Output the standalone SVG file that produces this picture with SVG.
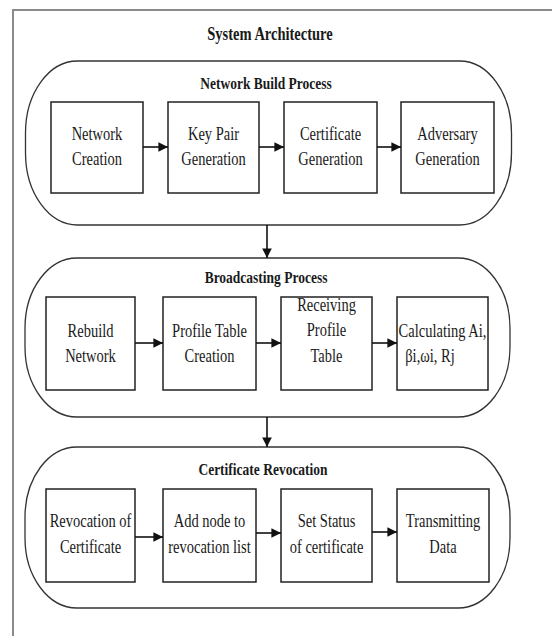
<svg xmlns="http://www.w3.org/2000/svg" width="552" height="636" viewBox="0 0 552 636">
<defs>
<style>
.frame{fill:none;stroke:#8a8a8a;stroke-width:2}
.pill{fill:none;stroke:#333;stroke-width:1.3}
.box{fill:#fff;stroke:#222;stroke-width:1.5}
.t{font-family:"Liberation Serif","Times New Roman",serif;font-size:14.5px;fill:#1a1a1a;text-anchor:middle}
.h{font-family:"Liberation Serif","Times New Roman",serif;font-size:13.5px;font-weight:bold;fill:#1a1a1a;text-anchor:middle}
.c{fill:none;stroke:#111;stroke-width:1.6}
</style>
<marker id="ah" viewBox="0 0 10 10" refX="10" refY="5" markerWidth="6" markerHeight="6" orient="auto" markerUnits="strokeWidth">
<path d="M0,0 L10,5 L0,10 z" fill="#111"/>
</marker>
</defs>
<rect width="552" height="636" fill="#fff"/>
<path class="frame" d="M13,636 V10 H552"/>
<text class="h" transform="translate(270,40) scale(1,1.28)" style="font-size:14.5px">System Architecture</text>

<g id="network-build-process">
<rect class="pill" x="25.5" y="61" width="486" height="164" rx="52" ry="72"/>
<text class="h" transform="translate(266,89) scale(1,1.3)">Network Build Process</text>
</g>
<g id="network-creation">
<rect class="box" x="51" y="102" width="92" height="91"/>
<text class="t" transform="translate(97,140) scale(1,1.25)">Network</text>
<text class="t" transform="translate(97,165) scale(1,1.25)">Creation</text>
</g>
<g id="key-pair-generation">
<rect class="box" x="168" y="102" width="91" height="91"/>
<text class="t" transform="translate(213.5,140) scale(1,1.25)">Key Pair</text>
<text class="t" transform="translate(213.5,165) scale(1,1.25)">Generation</text>
</g>
<g id="certificate-generation">
<rect class="box" x="284" y="102" width="93" height="91"/>
<text class="t" transform="translate(330.5,140) scale(1,1.25)">Certificate</text>
<text class="t" transform="translate(330.5,165) scale(1,1.25)">Generation</text>
</g>
<g id="adversary-generation">
<rect class="box" x="401" y="102" width="93" height="91"/>
<text class="t" transform="translate(447.5,140) scale(1,1.25)">Adversary</text>
<text class="t" transform="translate(447.5,165) scale(1,1.25)">Generation</text>
</g>

<g id="broadcasting-process">
<rect class="pill" x="25" y="258" width="485" height="159" rx="52" ry="70"/>
<text class="h" transform="translate(266,283) scale(1,1.3)">Broadcasting Process</text>
</g>
<g id="rebuild-network">
<rect class="box" x="46" y="297" width="89" height="93"/>
<text class="t" transform="translate(90.5,337) scale(1,1.25)">Rebuild</text>
<text class="t" transform="translate(90.5,362) scale(1,1.25)">Network</text>
</g>
<g id="profile-table-creation">
<rect class="box" x="163" y="297" width="93" height="93"/>
<text class="t" transform="translate(209.5,337) scale(1,1.25)">Profile Table</text>
<text class="t" transform="translate(209.5,362) scale(1,1.25)">Creation</text>
</g>
<g id="receiving-profile-table">
<rect class="box" x="281" y="297" width="91" height="93"/>
<text class="t" transform="translate(326.5,311) scale(1,1.25)">Receiving</text>
<text class="t" transform="translate(326.5,336) scale(1,1.25)">Profile</text>
<text class="t" transform="translate(326.5,362) scale(1,1.25)">Table</text>
</g>
<g id="calculating">
<rect class="box" x="397" y="297" width="91" height="93"/>
<text class="t" transform="translate(442.5,337) scale(1,1.25)">Calculating Ai,</text>
<text class="t" transform="translate(430,362) scale(1,1.25)">βi,ωi, Rj</text>
</g>

<g id="certificate-revocation">
<rect class="pill" x="25" y="447" width="485" height="161" rx="52" ry="70"/>
<text class="h" transform="translate(263,475) scale(1,1.3)">Certificate Revocation</text>
</g>
<g id="revocation-of-certificate">
<rect class="box" x="46" y="489" width="89" height="93"/>
<text class="t" transform="translate(90.5,527) scale(1,1.25)">Revocation of</text>
<text class="t" transform="translate(90.5,553) scale(1,1.25)">Certificate</text>
</g>
<g id="add-node">
<rect class="box" x="163" y="489" width="93" height="93"/>
<text class="t" transform="translate(209.5,527) scale(1,1.25)">Add node to</text>
<text class="t" transform="translate(209.5,553) scale(1,1.25)">revocation list</text>
</g>
<g id="set-status">
<rect class="box" x="281" y="489" width="91" height="93"/>
<text class="t" transform="translate(326.5,527) scale(1,1.25)">Set Status</text>
<text class="t" transform="translate(326.5,553) scale(1,1.25)">of certificate</text>
</g>
<g id="transmitting-data">
<rect class="box" x="397" y="489" width="92" height="93"/>
<text class="t" transform="translate(443,527) scale(1,1.25)">Transmitting</text>
<text class="t" transform="translate(443,553) scale(1,1.25)">Data</text>
</g>

<g id="connectors">
<line class="c" x1="143" y1="147" x2="168" y2="147" marker-end="url(#ah)"/>
<line class="c" x1="259" y1="147" x2="284" y2="147" marker-end="url(#ah)"/>
<line class="c" x1="377" y1="147" x2="401" y2="147" marker-end="url(#ah)"/>
<line class="c" x1="267" y1="225" x2="267" y2="258" marker-end="url(#ah)"/>
<line class="c" x1="135" y1="343" x2="163" y2="343" marker-end="url(#ah)"/>
<line class="c" x1="256" y1="343" x2="281" y2="343" marker-end="url(#ah)"/>
<line class="c" x1="372" y1="343" x2="397" y2="343" marker-end="url(#ah)"/>
<line class="c" x1="267" y1="417" x2="267" y2="447" marker-end="url(#ah)"/>
<line class="c" x1="135" y1="537" x2="163" y2="537" marker-end="url(#ah)"/>
<line class="c" x1="256" y1="533" x2="281" y2="533" marker-end="url(#ah)"/>
<line class="c" x1="372" y1="532" x2="397" y2="532" marker-end="url(#ah)"/>
</g>
</svg>
